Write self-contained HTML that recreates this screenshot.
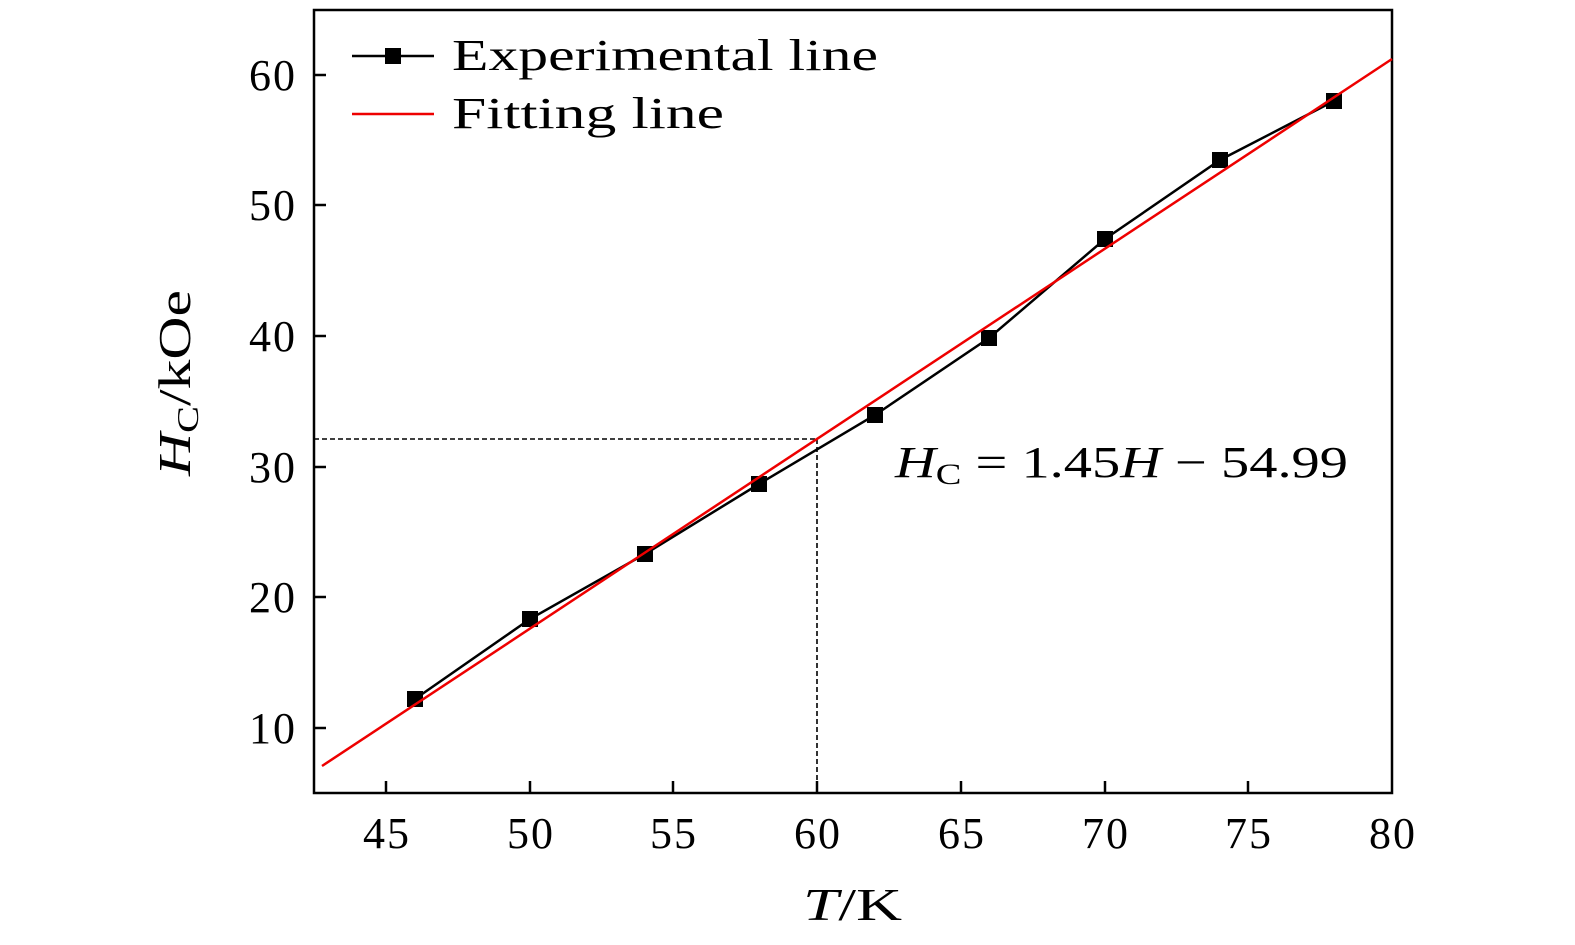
<!DOCTYPE html>
<html><head><meta charset="utf-8"><style>
html,body{margin:0;padding:0;background:#fff;}
svg{display:block;}
text{font-family:"Liberation Serif","DejaVu Serif",serif;fill:#000;}
</style></head><body>
<svg width="1575" height="945" viewBox="0 0 1575 945" xmlns="http://www.w3.org/2000/svg">
<rect x="314" y="10" width="1078" height="783" fill="none" stroke="#000" stroke-width="2.5"/>
<g stroke="#000" stroke-width="2.5">
<line x1="386" y1="793" x2="386" y2="781"/><line x1="530" y1="793" x2="530" y2="781"/>
<line x1="673" y1="793" x2="673" y2="781"/><line x1="817" y1="793" x2="817" y2="781"/>
<line x1="961" y1="793" x2="961" y2="781"/><line x1="1105" y1="793" x2="1105" y2="781"/>
<line x1="1248" y1="793" x2="1248" y2="781"/>
<line x1="314" y1="75" x2="326" y2="75"/><line x1="314" y1="205" x2="326" y2="205"/>
<line x1="314" y1="336" x2="326" y2="336"/><line x1="314" y1="467" x2="326" y2="467"/>
<line x1="314" y1="597" x2="326" y2="597"/><line x1="314" y1="728" x2="326" y2="728"/>
</g>
<g font-size="44" text-anchor="middle" letter-spacing="2">
<text x="387" y="848">45</text><text x="531" y="848">50</text><text x="674" y="848">55</text>
<text x="818" y="848">60</text><text x="962" y="848">65</text><text x="1106" y="848">70</text>
<text x="1249" y="848">75</text><text x="1393" y="848">80</text>
</g>
<g font-size="44" text-anchor="end" letter-spacing="2">
<text x="297" y="90">60</text><text x="297" y="220">50</text><text x="297" y="351">40</text>
<text x="297" y="482">30</text><text x="297" y="612">20</text><text x="297" y="743">10</text>
</g>
<text x="803" y="920" font-size="46" textLength="99" lengthAdjust="spacingAndGlyphs"><tspan font-style="italic">T</tspan>/K</text>
<text transform="translate(190,476) rotate(-90)" font-size="46" textLength="186" lengthAdjust="spacingAndGlyphs"><tspan font-style="italic">H</tspan><tspan font-size="31" dy="8">C</tspan><tspan dy="-8">/kOe</tspan></text>
<g stroke="#000" stroke-width="1.6" stroke-dasharray="5,3" fill="none">
<line x1="314" y1="439" x2="817" y2="439"/><line x1="817" y1="439" x2="817" y2="793"/>
</g>
<polyline fill="none" stroke="#000" stroke-width="2.5" points="415,699 530,619 645,554 759,484 875,415 989,338 1105,239 1220,160 1334,101"/>
<g fill="#000">
<rect x="407" y="691" width="16" height="16"/><rect x="522" y="611" width="16" height="16"/>
<rect x="637" y="546" width="16" height="16"/><rect x="751" y="476" width="16" height="16"/>
<rect x="867" y="407" width="16" height="16"/><rect x="981" y="330" width="16" height="16"/>
<rect x="1097" y="231" width="16" height="16"/><rect x="1212" y="152" width="16" height="16"/>
<rect x="1326" y="93" width="16" height="16"/>
</g>
<line x1="322" y1="766" x2="1392" y2="59" stroke="#e00" stroke-width="2.5"/>
<line x1="352" y1="56" x2="434" y2="56" stroke="#000" stroke-width="2.5"/>
<rect x="385" y="48" width="16" height="16" fill="#000"/>
<text x="452" y="70" font-size="44" textLength="426" lengthAdjust="spacingAndGlyphs">Experimental line</text>
<line x1="352" y1="114" x2="434" y2="114" stroke="#e00" stroke-width="2.5"/>
<text x="452" y="128" font-size="44" textLength="272" lengthAdjust="spacingAndGlyphs">Fitting line</text>
<text x="895" y="477" font-size="44" textLength="453" lengthAdjust="spacingAndGlyphs"><tspan font-style="italic">H</tspan><tspan font-size="30" dy="7">C</tspan><tspan dy="-7"> = 1.45</tspan><tspan font-style="italic">H</tspan><tspan> − 54.99</tspan></text>
</svg>
</body></html>
